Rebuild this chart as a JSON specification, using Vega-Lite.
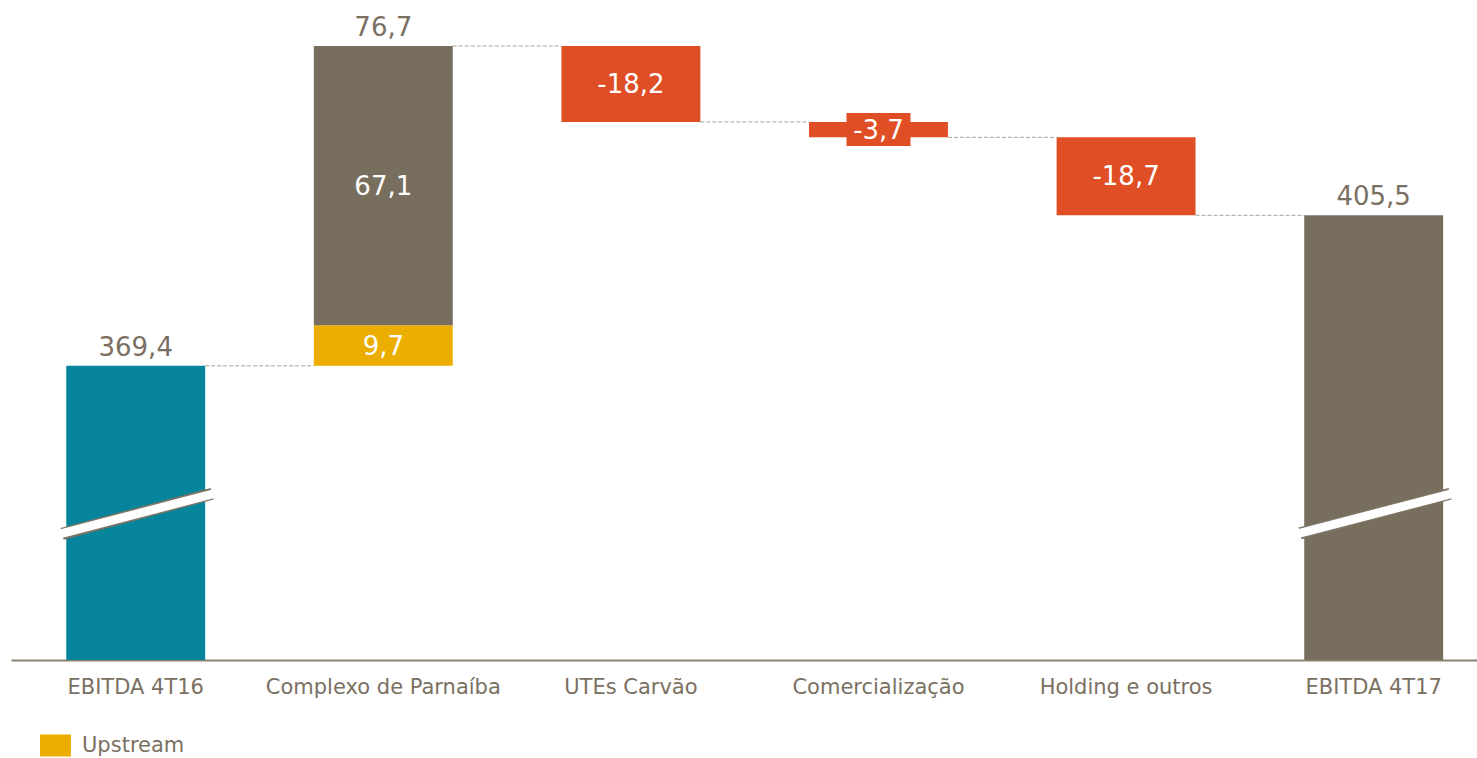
{
  "$schema": "https://vega.github.io/schema/vega-lite/v6.json",
  "width": 1466,
  "height": 660,
  "autosize": {"type": "none"},
  "padding": {"left": 11, "top": 0, "right": 0, "bottom": 98},
  "background": "white",
  "config": {
    "view": {"stroke": null},
    "font": "DejaVu Sans",
    "text": {"font": "DejaVu Sans"}
  },
  "datasets": {
    "bars": [
      {"cat": "EBITDA 4T16", "grp": "teal", "lo": 0, "hi": 369.4, "label": "369,4", "inside": false},
      {"cat": "Complexo de Parnaíba", "grp": "Upstream", "lo": 369.4, "hi": 379.1, "label": "9,7", "inside": true},
      {"cat": "Complexo de Parnaíba", "grp": "gray", "lo": 379.1, "hi": 446.1, "label": "67,1", "inside": true},
      {"cat": "UTEs Carvão", "grp": "red", "lo": 427.9, "hi": 446.1, "label": "-18,2", "inside": true},
      {"cat": "Comercialização", "grp": "red", "lo": 424.2, "hi": 427.9, "label": "-3,7", "inside": true},
      {"cat": "Holding e outros", "grp": "red", "lo": 405.5, "hi": 424.2, "label": "-18,7", "inside": true},
      {"cat": "EBITDA 4T17", "grp": "gray", "lo": 0, "hi": 405.5, "label": "405,5", "inside": false}
    ],
    "totals": [
      {"cat": "EBITDA 4T16", "v": 369.4, "label": "369,4"},
      {"cat": "Complexo de Parnaíba", "v": 446.1, "label": "76,7"},
      {"cat": "EBITDA 4T17", "v": 405.5, "label": "405,5"}
    ],
    "links": [
      {"from": "EBITDA 4T16", "to": "Complexo de Parnaíba", "level": 369.4},
      {"from": "Complexo de Parnaíba", "to": "UTEs Carvão", "level": 446.1},
      {"from": "UTEs Carvão", "to": "Comercialização", "level": 427.9},
      {"from": "Comercialização", "to": "Holding e outros", "level": 424.2},
      {"from": "Holding e outros", "to": "EBITDA 4T17", "level": 405.5}
    ],
    "breaks": [
      {"cat": "EBITDA 4T16", "ya": 329.1, "yb": 338.7},
      {"cat": "EBITDA 4T17", "ya": 329.2, "yb": 338.7}
    ]
  },
  "encoding": {
    "x": {
      "field": "cat",
      "type": "nominal",
      "scale": {
        "domain": ["EBITDA 4T16", "Complexo de Parnaíba", "UTEs Carvão", "Comercialização", "Holding e outros", "EBITDA 4T17"],
        "paddingInner": 0.439, "paddingOuter": 0.18, "align": 0.62
      },
      "axis": {
        "title": null,
        "labelAngle": 0,
        "labelFont": "DejaVu Sans",
        "labelFontSize": 21,
        "labelColor": "#7a7062",
        "labelPadding": 16,
        "labelLimit": 400,
        "ticks": false,
        "domainColor": "#8a8172",
        "domainWidth": 2,
        "grid": false
      }
    }
  },
  "layer": [
    {
      "data": {"name": "bars"},
      "mark": {"type": "bar", "clip": true},
      "encoding": {
        "y": {"field": "lo", "type": "quantitative", "scale": {"domain": [298.84, 457.14], "zero": false, "nice": false}, "axis": null},
        "y2": {"field": "hi"},
        "color": {
          "field": "grp",
          "type": "nominal",
          "scale": {"domain": ["Upstream", "teal", "gray", "red"], "range": ["#ebae00", "#05849b", "#776e5e", "#e04e25"]},
          "legend": {
            "values": ["Upstream"],
            "title": null,
            "orient": "none",
            "legendX": 29,
            "legendY": 730,
            "padding": 0,
            "symbolType": "M-1,-0.71H1V0.71H-1Z",
            "symbolSize": 961,
            "symbolStrokeWidth": 0,
            "symbolOpacity": 1,
            "labelFont": "DejaVu Sans",
            "labelFontSize": 21,
            "labelColor": "#7a7062",
            "labelOffset": 11
          }
        }
      }
    },
    {
      "data": {"name": "bars"},
      "transform": [{"filter": "datum.label == '-3,7'"}, {"calculate": "(datum.lo + datum.hi) / 2", "as": "mid"}],
      "mark": {"type": "tick", "color": "#e04e25", "opacity": 1, "size": 64, "thickness": 33},
      "encoding": {
        "y": {"field": "mid", "type": "quantitative"}
      }
    },
    {
      "data": {"name": "breaks"},
      "mark": {"type": "rule", "color": "#7d7463", "strokeWidth": 12},
      "encoding": {
        "x": {"field": "cat", "type": "nominal", "bandPosition": -0.03},
        "x2": {"field": "cat", "bandPosition": 1.05},
        "y": {"field": "ya", "type": "quantitative"},
        "y2": {"field": "yb"}
      }
    },
    {
      "data": {"name": "breaks"},
      "mark": {"type": "rule", "color": "white", "strokeWidth": 8.8},
      "encoding": {
        "x": {"field": "cat", "type": "nominal", "bandPosition": -0.04},
        "x2": {"field": "cat", "bandPosition": 1.06},
        "y": {"field": "ya", "type": "quantitative"},
        "y2": {"field": "yb"}
      }
    },
    {
      "data": {"name": "links"},
      "mark": {"type": "rule", "color": "#aaa398", "strokeWidth": 1, "strokeDash": [4, 2]},
      "encoding": {
        "x": {"field": "from", "type": "nominal", "bandPosition": 1},
        "x2": {"field": "to", "bandPosition": 0},
        "y": {"field": "level", "type": "quantitative"}
      }
    },
    {
      "data": {"name": "bars"},
      "transform": [{"filter": "datum.inside"}, {"calculate": "(datum.lo + datum.hi) / 2", "as": "mid"}],
      "mark": {"type": "text", "color": "white", "fontSize": 26, "baseline": "middle", "align": "center", "dy": 1, "font": "DejaVu Sans"},
      "encoding": {
        "y": {"field": "mid", "type": "quantitative"},
        "text": {"field": "label"}
      }
    },
    {
      "data": {"name": "totals"},
      "mark": {"type": "text", "color": "#7a7062", "fontSize": 26, "baseline": "alphabetic", "align": "center", "dy": -10, "font": "DejaVu Sans"},
      "encoding": {
        "y": {"field": "v", "type": "quantitative"},
        "text": {"field": "label"}
      }
    }
  ]
}
